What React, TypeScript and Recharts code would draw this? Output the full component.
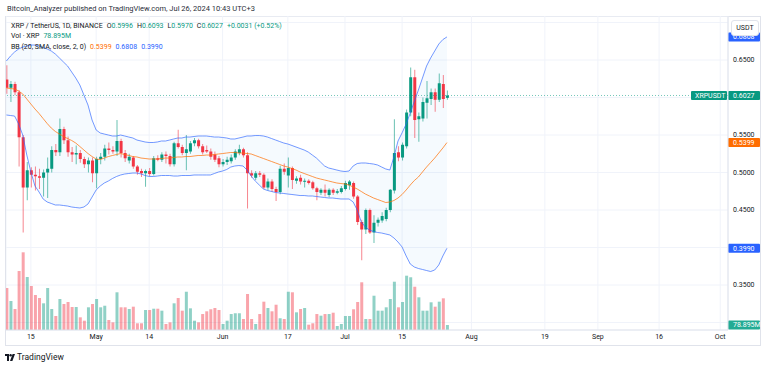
import {
  Area,
  Bar,
  CartesianGrid,
  Cell,
  ComposedChart,
  Line,
  ReferenceLine,
  XAxis,
  YAxis,
} from "recharts"

// XRP/USDT daily, Apr 9 2024 (index 0) .. Jul 26 2024 (index 108)
const open = [
  0.624, 0.613, 0.618, 0.607, 0.547, 0.48, 0.503, 0.497, 0.495, 0.493, 0.5, 0.505, 0.53, 0.527, 0.558, 0.543, 0.527,
  0.524, 0.526, 0.518, 0.511, 0.516, 0.499, 0.518, 0.521, 0.532, 0.53, 0.528, 0.542, 0.526, 0.516, 0.52, 0.508, 0.502,
  0.499, 0.502, 0.498, 0.519, 0.517, 0.524, 0.522, 0.511, 0.539, 0.534, 0.526, 0.528, 0.539, 0.543, 0.535, 0.53, 0.528,
  0.524, 0.519, 0.511, 0.514, 0.515, 0.52, 0.526, 0.531, 0.523, 0.499, 0.493, 0.499, 0.497, 0.48, 0.488, 0.478, 0.474,
  0.505, 0.496, 0.506, 0.489, 0.493, 0.488, 0.489, 0.487, 0.479, 0.473, 0.477, 0.47, 0.477, 0.473, 0.474, 0.478, 0.483,
  0.486, 0.468, 0.434, 0.424, 0.45, 0.42, 0.433, 0.436, 0.438, 0.45, 0.476, 0.527, 0.52, 0.535, 0.58, 0.627, 0.571,
  0.572, 0.593, 0.598, 0.607, 0.597, 0.618, 0.5996,
]
const high = [
  0.643, 0.622, 0.621, 0.61, 0.55, 0.514, 0.507, 0.508, 0.505, 0.504, 0.52, 0.535, 0.538, 0.572, 0.561, 0.548, 0.534,
  0.536, 0.53, 0.521, 0.52, 0.52, 0.521, 0.526, 0.537, 0.54, 0.535, 0.57, 0.545, 0.53, 0.525, 0.522, 0.51, 0.505, 0.504,
  0.506, 0.522, 0.523, 0.527, 0.528, 0.525, 0.541, 0.557, 0.537, 0.55, 0.542, 0.546, 0.545, 0.538, 0.536, 0.532, 0.528,
  0.522, 0.518, 0.521, 0.524, 0.531, 0.537, 0.533, 0.527, 0.503, 0.502, 0.502, 0.499, 0.492, 0.491, 0.481, 0.509, 0.512,
  0.52, 0.508, 0.495, 0.497, 0.492, 0.491, 0.489, 0.481, 0.479, 0.484, 0.479, 0.479, 0.478, 0.482, 0.489, 0.49, 0.488,
  0.47, 0.437, 0.452, 0.452, 0.443, 0.44, 0.447, 0.453, 0.478, 0.571, 0.535, 0.54, 0.584, 0.64, 0.637, 0.58, 0.6, 0.622,
  0.612, 0.612, 0.632, 0.63, 0.6093,
]
const low = [
  0.605, 0.594, 0.603, 0.508, 0.42, 0.463, 0.48, 0.476, 0.478, 0.468, 0.466, 0.5, 0.522, 0.522, 0.538, 0.521, 0.514,
  0.511, 0.513, 0.506, 0.5, 0.487, 0.479, 0.511, 0.516, 0.524, 0.525, 0.522, 0.52, 0.514, 0.512, 0.505, 0.497, 0.494,
  0.481, 0.495, 0.496, 0.515, 0.514, 0.512, 0.508, 0.508, 0.532, 0.523, 0.503, 0.525, 0.535, 0.532, 0.524, 0.526, 0.517,
  0.514, 0.507, 0.508, 0.51, 0.512, 0.517, 0.523, 0.52, 0.452, 0.493, 0.49, 0.494, 0.478, 0.476, 0.474, 0.462, 0.471,
  0.497, 0.48, 0.478, 0.485, 0.484, 0.48, 0.484, 0.477, 0.463, 0.47, 0.468, 0.467, 0.47, 0.471, 0.472, 0.476, 0.477,
  0.465, 0.43, 0.383, 0.418, 0.418, 0.406, 0.428, 0.433, 0.435, 0.447, 0.472, 0.515, 0.516, 0.532, 0.575, 0.546, 0.541,
  0.568, 0.572, 0.59, 0.581, 0.594, 0.586, 0.597,
]
const close = [
  0.613, 0.618, 0.607, 0.547, 0.48, 0.503, 0.497, 0.495, 0.493, 0.5, 0.505, 0.53, 0.527, 0.558, 0.543, 0.527, 0.524,
  0.526, 0.518, 0.511, 0.516, 0.499, 0.518, 0.521, 0.532, 0.53, 0.528, 0.542, 0.526, 0.519, 0.521, 0.508, 0.501, 0.499,
  0.502, 0.498, 0.519, 0.517, 0.524, 0.522, 0.511, 0.539, 0.534, 0.526, 0.531, 0.539, 0.543, 0.535, 0.527, 0.528, 0.521,
  0.517, 0.511, 0.514, 0.517, 0.52, 0.528, 0.531, 0.523, 0.499, 0.496, 0.499, 0.497, 0.48, 0.488, 0.478, 0.474, 0.505,
  0.501, 0.506, 0.49, 0.492, 0.488, 0.489, 0.486, 0.479, 0.474, 0.477, 0.473, 0.477, 0.473, 0.475, 0.479, 0.486, 0.488,
  0.468, 0.434, 0.424, 0.45, 0.42, 0.433, 0.437, 0.442, 0.45, 0.477, 0.526, 0.52, 0.537, 0.58, 0.627, 0.57, 0.575,
  0.594, 0.599, 0.607, 0.597, 0.619, 0.598, 0.6027,
]
// volume, millions of XRP
const volume = [
  663, 458, 331, 931, 1226, 836, 694, 552, 505, 421, 663, 331, 221, 489, 410, 442, 363, 363, 200, 147, 358, 410, 489,
  358, 383, 158, 121, 595, 358, 358, 331, 368, 106, 106, 316, 316, 336, 336, 305, 95, 121, 421, 505, 305, 604, 342, 147,
  121, 252, 295, 327, 347, 316, 95, 147, 252, 264, 264, 174, 568, 174, 95, 252, 447, 347, 295, 399, 185, 174, 604, 595,
  279, 331, 347, 84, 106, 252, 226, 252, 252, 273, 63, 95, 221, 221, 327, 442, 753, 174, 174, 541, 305, 305, 358, 489,
  762, 358, 442, 857, 832, 683, 516, 305, 305, 437, 368, 447, 500, 78.895,
]
// Bollinger Bands (20, SMA, close, 2)
const bbUpper = [
  0.6487, 0.6553, 0.6607, 0.6647, 0.6673, 0.6687, 0.67, 0.67, 0.6687, 0.6667, 0.6647, 0.662, 0.658, 0.6527, 0.6473,
  0.642, 0.634, 0.626, 0.6167, 0.6033, 0.59, 0.57, 0.5567, 0.5527, 0.5513, 0.55, 0.5487, 0.5487, 0.55, 0.5487, 0.5473,
  0.546, 0.5433, 0.542, 0.5407, 0.54, 0.54, 0.5407, 0.542, 0.542, 0.5433, 0.5447, 0.546, 0.546, 0.5473, 0.5473, 0.548,
  0.5487, 0.5487, 0.5487, 0.548, 0.5473, 0.5473, 0.5467, 0.546, 0.5447, 0.5447, 0.546, 0.5473, 0.5487, 0.5487, 0.5493,
  0.5493, 0.5487, 0.5473, 0.5453, 0.5433, 0.5413, 0.5393, 0.538, 0.536, 0.534, 0.532, 0.53, 0.5273, 0.5233, 0.5193,
  0.514, 0.5087, 0.506, 0.5047, 0.5033, 0.502, 0.5013, 0.502, 0.5087, 0.512, 0.5127, 0.5127, 0.512, 0.5113, 0.51,
  0.5073, 0.5047, 0.5033, 0.5207, 0.542, 0.5529, 0.5647, 0.5793, 0.5948, 0.61, 0.626, 0.642, 0.6527, 0.662, 0.6713,
  0.6773, 0.6808,
]
const bbBasis = [
  0.6127, 0.612, 0.6113, 0.6087, 0.6047, 0.598, 0.5913, 0.5847, 0.5787, 0.572, 0.5653, 0.5593, 0.5547, 0.5513, 0.548,
  0.5453, 0.5427, 0.5393, 0.5347, 0.53, 0.5253, 0.5213, 0.518, 0.5173, 0.5193, 0.5213, 0.5227, 0.524, 0.5253, 0.524,
  0.5227, 0.5213, 0.5207, 0.5193, 0.5187, 0.518, 0.518, 0.518, 0.5187, 0.5193, 0.5193, 0.52, 0.5207, 0.5207, 0.5213,
  0.5213, 0.522, 0.5227, 0.5227, 0.5233, 0.5233, 0.524, 0.5247, 0.5253, 0.526, 0.5267, 0.5267, 0.526, 0.526, 0.5253,
  0.5247, 0.5227, 0.5207, 0.5187, 0.5167, 0.5147, 0.5127, 0.5107, 0.5087, 0.5073, 0.5053, 0.5033, 0.5007, 0.4987,
  0.4967, 0.4947, 0.4927, 0.4913, 0.49, 0.4887, 0.4873, 0.486, 0.4853, 0.4847, 0.4833, 0.4807, 0.478, 0.4747, 0.4713,
  0.4687, 0.466, 0.464, 0.462, 0.46, 0.4607, 0.4627, 0.466, 0.4707, 0.4767, 0.4833, 0.4893, 0.494, 0.5007, 0.5073,
  0.5133, 0.5193, 0.526, 0.5327, 0.5399,
]
const bbLower = [
  0.5767, 0.576, 0.5753, 0.5647, 0.55, 0.5233, 0.5007, 0.482, 0.474, 0.4647, 0.4607, 0.4587, 0.4567, 0.4567, 0.456,
  0.4553, 0.454, 0.4533, 0.4527, 0.454, 0.458, 0.4673, 0.4767, 0.482, 0.486, 0.4887, 0.492, 0.4947, 0.4967, 0.498,
  0.4987, 0.4993, 0.4993, 0.498, 0.496, 0.4947, 0.4947, 0.4953, 0.496, 0.496, 0.496, 0.4953, 0.4953, 0.496, 0.496,
  0.496, 0.4967, 0.4967, 0.4967, 0.4967, 0.4967, 0.4987, 0.5007, 0.502, 0.504, 0.5073, 0.5087, 0.5093, 0.5087, 0.5033,
  0.4953, 0.4887, 0.4833, 0.478, 0.476, 0.4747, 0.4733, 0.4727, 0.472, 0.4713, 0.4707, 0.47, 0.4693, 0.4693, 0.4687,
  0.4687, 0.468, 0.4673, 0.4667, 0.466, 0.466, 0.4653, 0.4647, 0.4647, 0.4647, 0.4607, 0.45, 0.434, 0.4273, 0.4233,
  0.4213, 0.42, 0.4193, 0.418, 0.4167, 0.4127, 0.4073, 0.4007, 0.3887, 0.378, 0.374, 0.372, 0.3707, 0.3693, 0.368,
  0.37, 0.3767, 0.3887, 0.399,
]

// day index of each time-axis label
const tickDays = [6, 22, 35, 53, 69, 83, 97, 114, 132, 145, 160, 175]
const tickLabels = ["15", "May", "14", "Jun", "17", "Jul", "15", "Aug", "19", "Sep", "16", "Oct"]
const priceTicks = [0.3, 0.35, 0.4, 0.45, 0.5, 0.55, 0.6, 0.65, 0.7]
const hiddenPriceTicks = [0.3, 0.4, 0.6, 0.7]

const UP = "#089981"
const DOWN = "#F23645"
const BLUE = "#2962FF"
const ORANGE = "#FF6D00"
const TEXT = "#131722"

const data = open.map((o, i) => ({
  i,
  open: o,
  high: high[i],
  low: low[i],
  close: close[i],
  volume: volume[i],
  upper: bbUpper[i],
  basis: bbBasis[i],
  lower: bbLower[i],
}))

const Candle = (props: any) => {
  const { x, y, width, height, payload } = props
  const { open, close, high, low } = payload
  const color = close >= open ? UP : DOWN
  const ppu = height / (high - low)
  const top = y + (high - Math.max(open, close)) * ppu
  const bodyH = Math.max(1, Math.abs(open - close) * ppu)
  const cx = x + width / 2
  return (
    <g>
      <line x1={cx} x2={cx} y1={y} y2={y + height} stroke={color} strokeOpacity={0.6} strokeWidth={1} />
      <rect x={x} y={top} width={width} height={bodyH} fill={color} />
    </g>
  )
}

const PriceTick = ({ x, y, payload }: any) => {
  if (hiddenPriceTicks.some((v) => Math.abs(v - payload.value) < 1e-6)) return <g />
  return (
    <text x={x} y={y} dy="0.35em" fontSize={7} fill={TEXT}>
      {payload.value.toFixed(4)}
    </text>
  )
}

const badge = (text: string, bg: string) => (props: any) => {
  const { viewBox } = props
  const x = viewBox.x + viewBox.width
  const y = viewBox.y
  return (
    <g>
      <rect x={x} y={y - 4.5} width={32} height={9} rx={1} fill={bg} />
      <text x={x + 5} y={y} dy="0.35em" fontSize={7} fill="#fff">
        {text}
      </text>
    </g>
  )
}

const lastPriceBadge = (props: any) => {
  const { viewBox } = props
  const x = viewBox.x + viewBox.width
  const y = viewBox.y
  return (
    <g>
      <rect x={x - 37} y={y - 4.5} width={36} height={9} rx={1} fill={UP} />
      <text x={x - 33} y={y} dy="0.35em" fontSize={7} fill="#fff">
        XRPUSDT
      </text>
      <rect x={x} y={y - 4.5} width={32} height={9} rx={1} fill={UP} />
      <text x={x + 5} y={y} dy="0.35em" fontSize={7} fill="#fff">
        0.6027
      </text>
    </g>
  )
}

const Legend = () => {
  const row = { position: "absolute" as const, left: 11, display: "flex", gap: 4, lineHeight: "10px", whiteSpace: "nowrap" as const }
  return (
    <>
      <div style={{ ...row, top: 21 }}>
        <span>XRP / TetherUS, 1D, BINANCE</span>
        <span>
          O<span style={{ color: UP }}>0.5996</span>
        </span>
        <span>
          H<span style={{ color: UP }}>0.6093</span>
        </span>
        <span>
          L<span style={{ color: UP }}>0.5970</span>
        </span>
        <span>
          C<span style={{ color: UP }}>0.6027</span>
        </span>
        <span style={{ color: UP }}>+0.0031 (+0.52%)</span>
      </div>
      <div style={{ ...row, top: 31 }}>
        <span>Vol · XRP</span>
        <span style={{ color: UP }}>78.895M</span>
      </div>
      <div style={{ ...row, top: 42 }}>
        <span>BB (20, SMA, close, 2, 0)</span>
        <span style={{ color: ORANGE }}>0.5399</span>
        <span style={{ color: BLUE }}>0.6808</span>
        <span style={{ color: BLUE }}>0.3990</span>
      </div>
    </>
  )
}

export default function App() {
  return (
    <div
      style={{
        position: "relative",
        width: 768,
        height: 369,
        background: "#fff",
        fontFamily: "Roboto, 'Noto Sans', sans-serif",
        fontSize: 7,
        color: TEXT,
        overflow: "hidden",
      }}
    >
      <style>{"body{margin:0}"}</style>
      <div style={{ position: "absolute", left: 7, top: 4, fontSize: 7.5, lineHeight: "10px", color: "#2a2e39" }}>
        Bitcoin_Analyzer published on TradingView.com, Jul 26, 2024 10:43 UTC+3
      </div>
      <div
        style={{
          position: "absolute",
          left: 5,
          top: 16,
          width: 756,
          height: 330,
          border: "1px solid #e0e3eb",
          boxSizing: "border-box",
        }}
      />
      <div style={{ position: "absolute", left: 6, top: 16 }}>
        <ComposedChart width={756} height={331} data={data} margin={{ top: 0, right: 0, bottom: 0, left: 0 }}>
          <CartesianGrid xAxisId="p" yAxisId="p" stroke="#f0f3fa" />
          <XAxis
            xAxisId="p"
            dataKey="i"
            type="number"
            domain={[-0.1, 176.9]}
            allowDataOverflow
            ticks={tickDays}
            interval={0}
            tickFormatter={(v: number) => tickLabels[tickDays.indexOf(v)] ?? ""}
            tickLine={false}
            tickSize={0}
            tickMargin={4}
            height={17}
            axisLine={{ stroke: "#e0e3eb" }}
            tick={{ fontSize: 7, fill: TEXT }}
          />
          <XAxis xAxisId="v" dataKey="i" type="number" domain={[-0.1, 176.9]} allowDataOverflow hide />
          <YAxis
            yAxisId="p"
            orientation="right"
            width={34}
            domain={[0.29, 0.7087]}
            allowDataOverflow
            ticks={priceTicks}
            interval={0}
            tickLine={false}
            tickSize={0}
            tickMargin={5}
            axisLine={{ stroke: "#e0e3eb" }}
            tick={<PriceTick />}
          />
          <YAxis yAxisId="v" domain={[0, 4955]} allowDataOverflow hide />
          <Bar xAxisId="v" yAxisId="v" dataKey="volume" barSize={3} isAnimationActive={false}>
            {data.map((d) => (
              <Cell key={d.i} fill={d.close >= d.open ? UP : DOWN} fillOpacity={0.45} />
            ))}
          </Bar>
          <Area
            xAxisId="p"
            yAxisId="p"
            type="linear"
            dataKey={(d: any) => [d.lower, d.upper]}
            stroke="none"
            fill="#2196F3"
            fillOpacity={0.045}
            isAnimationActive={false}
          />
          <Line xAxisId="p" yAxisId="p" type="linear" dataKey="upper" stroke={BLUE} strokeOpacity={0.65} strokeWidth={1} dot={false} isAnimationActive={false} />
          <Line xAxisId="p" yAxisId="p" type="linear" dataKey="lower" stroke={BLUE} strokeOpacity={0.65} strokeWidth={1} dot={false} isAnimationActive={false} />
          <Line xAxisId="p" yAxisId="p" type="linear" dataKey="basis" stroke={ORANGE} strokeOpacity={0.7} strokeWidth={1} dot={false} isAnimationActive={false} />
          <ReferenceLine
            xAxisId="p"
            yAxisId="p"
            y={0.6027}
            stroke={UP}
            strokeOpacity={0.55}
            strokeDasharray="1 2"
            strokeWidth={1}
            label={lastPriceBadge}
          />
          <Bar
            xAxisId="p"
            yAxisId="p"
            dataKey={(d: any) => [d.low, d.high]}
            barSize={3}
            shape={<Candle />}
            isAnimationActive={false}
          />
          <ReferenceLine xAxisId="p" yAxisId="p" y={0.5399} stroke="none" label={badge("0.5399", ORANGE)} />
          <ReferenceLine xAxisId="p" yAxisId="p" y={0.399} stroke="none" label={badge("0.3990", BLUE)} />
          <ReferenceLine xAxisId="p" yAxisId="p" y={0.6808} stroke="none" label={badge("0.6808", BLUE)} />
          <ReferenceLine xAxisId="v" yAxisId="v" y={78.895} stroke="none" label={badge("78.895M", "#22ab94")} />
        </ComposedChart>
      </div>
      <div
        style={{
          position: "absolute",
          left: 731,
          top: 20,
          width: 28,
          height: 16,
          background: "#fff",
          border: "1px solid #e0e3eb",
          borderRadius: 3,
          boxSizing: "border-box",
          display: "flex",
          alignItems: "center",
          justifyContent: "center",
          fontSize: 7,
        }}
      >
        USDT
      </div>
      <Legend />
      <div style={{ position: "absolute", left: 5, top: 352, display: "flex", alignItems: "center", gap: 2 }}>
        <svg width={10} height={7} viewBox="0 0 10 7">
          <path d="M0 0h4v7H2V2H0z" fill={TEXT} />
          <circle cx={5.6} cy={1.2} r={1.2} fill={TEXT} />
          <path d="M7.6 0H10L7.4 7H5z" fill={TEXT} />
        </svg>
        <span style={{ fontSize: 8.5, lineHeight: "10px", color: TEXT }}>TradingView</span>
      </div>
    </div>
  )
}
